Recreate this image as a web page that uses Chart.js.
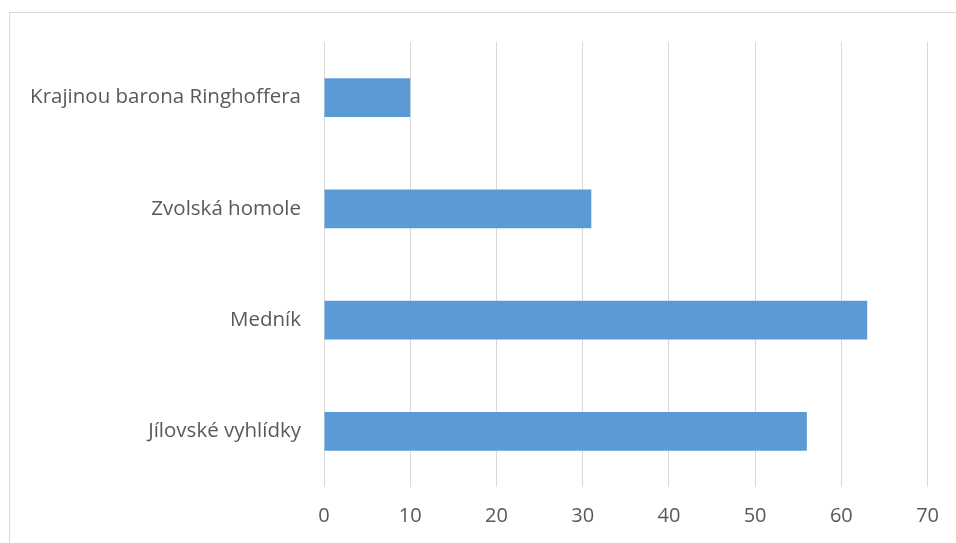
<!DOCTYPE html>
<html>
<head>
<meta charset="utf-8">
<script src="https://cdn.jsdelivr.net/npm/chart.js@4/dist/chart.umd.min.js"></script>
<style>
  html, body { margin: 0; padding: 0; background: #fff; overflow: hidden; }
  #frame { position: absolute; left: 9px; top: 12px; width: 1000px; height: 600px; border: 1px solid #d9d9d9; box-sizing: border-box; }
  #wrap { position: absolute; left: 0; top: 0; width: 956px; height: 543px; }
</style>
</head>
<body>
<div id="frame"></div>
<div id="wrap"><canvas id="c" width="956" height="543"></canvas></div>
<script>
// Places, listed top to bottom
const categories = ["Krajinou barona Ringhoffera", "Zvolská homole", "Medník", "Jílovské vyhlídky"];
const values = [10, 31, 63, 56];
const xTicks = [0, 10, 20, 30, 40, 50, 60, 70];

const textColor = "#595959";
const gridColor = "#d9d9d9";
const fontFamily = "'Open Sans', 'Noto Sans', sans-serif";

new Chart(document.getElementById("c"), {
  type: "bar",
  data: {
    labels: categories,
    datasets: [{
      data: values,
      backgroundColor: "#5b9bd5",
      borderWidth: 0,
      barPercentage: 0.7,
      categoryPercentage: 0.5
    }]
  },
  options: {
    indexAxis: "y",
    responsive: false,
    animation: false,
    devicePixelRatio: 1,
    layout: { padding: { top: 42, right: 27, left: 0, bottom: 0 } },
    plugins: { legend: { display: false }, tooltip: { enabled: false } },
    scales: {
      x: {
        min: xTicks[0],
        max: xTicks[xTicks.length - 1],
        afterBuildTicks: (s) => { s.ticks = xTicks.map(v => ({ value: v })); },
        afterFit: (s) => { s.height = 56; },
        grid: { color: gridColor, lineWidth: 1, drawTicks: false },
        border: { display: false },
        ticks: { color: textColor, font: { family: fontFamily, size: 20 }, padding: 17 }
      },
      y: {
        afterFit: (s) => { s.width = 324; },
        grid: { display: false, drawTicks: false },
        border: { display: false },
        ticks: { color: textColor, font: { family: fontFamily, size: 20.5 }, padding: 23 }
      }
    }
  }
});
</script>
</body>
</html>
